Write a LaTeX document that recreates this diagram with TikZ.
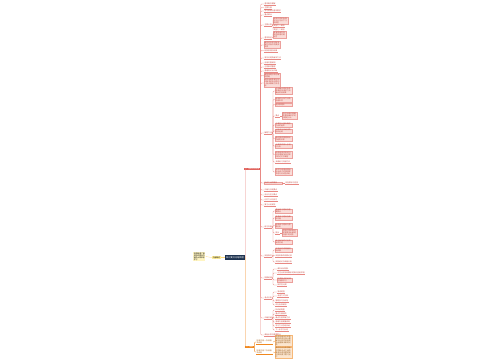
\documentclass[tikz,border=0pt]{standalone}
\usepackage{fontspec}
\newfontfamily\cjk{Noto Sans CJK SC}
\XeTeXlinebreaklocale "zh"
\XeTeXlinebreakskip=0pt plus 0.5pt
\usetikzlibrary{positioning}
\definecolor{mapred}{HTML}{E0605A}
\definecolor{mappink}{HTML}{FADCD8}
\definecolor{maptext}{HTML}{C0443C}
\definecolor{mapnavy}{HTML}{1E3350}
\definecolor{maporange}{HTML}{F0881E}
\definecolor{mappeach}{HTML}{FCE6CF}
\definecolor{mapyellow}{HTML}{FFEE99}
\newcommand{\mapfont}{\cjk\fontsize{1.8}{2.1}\selectfont}

\begin{document}
\begin{tikzpicture}[x=1pt, y=-1pt,
    every node/.style={font=\mapfont, inner sep=0.4pt, anchor=west},
    rlink/.style={draw=mapred!75, line width=0.3pt, rounded corners=0.8pt},
    olink/.style={draw=maporange, line width=0.3pt, rounded corners=0.8pt},
    ylink/.style={draw=mapyellow!80!orange, line width=0.3pt},
    txt/.style={text=maptext, append after command={(\tikzlastnode.south west) edge[rlink] (\tikzlastnode.south east)}},
    otxt/.style={text=maporange!70!black, append after command={(\tikzlastnode.south west) edge[olink] (\tikzlastnode.south east)}},
    pbox/.style={draw=mapred!60, line width=0.2pt, fill=mappink, text=maptext, text width=#1, align=left, inner sep=0.5pt},
    obox/.style={draw=maporange!60, line width=0.2pt, fill=mappeach, text=maporange!60!black, text width=#1, align=left, inner sep=0.5pt}]
    \useasboundingbox (0,0) rectangle (500,360);

    % centre and left note
    \node[fill=mapnavy, text=white, inner sep=1pt, font=\cjk\fontsize{2.2}{2.6}\selectfont] (root) at (225,257.5) {知识要点总结梳理};
    \node[fill=mapyellow, inner sep=0.6pt] (sum) at (212,257.5) {内容概述};
    \node[fill=mapyellow!60, text width=11pt, align=left, inner sep=0.6pt] (memo) at (193,256.5) {本图梳理了相关知识要点内容供大家参考学习};
    \draw[ylink] (sum.east) -- (root.west);
    \draw[ylink] (memo.east) -- (sum.west);

    % main branches
    \node[fill=mapred, text=white, inner sep=0.6pt] (r) at (244,169) {一、基础知识梳理};
    \node[fill=maporange, text=white, inner sep=0.6pt] (o) at (245,347) {二、拓展};
    \draw[rlink] (root.east) -- ++(0.8,0) |- (r.west);
    \draw[olink] (root.east) -- ++(0.8,0) |- (o.west);

    % red branch, level 2
    \node[txt] (a1) at (264,4) {基本概念理解};
    \node[txt] (a2) at (264,7.5) {主要内容};
    \node[txt] (a3) at (264,11) {学习目标与基本要求};
    \node[txt] (a4) at (264,15) {重点难点};
    \node[txt] (a5) at (264,25) {主要分类};
    \node[txt] (a6) at (264,38) {基本特征};
    \node[pbox=15pt] (a7) at (264,45) {概念的形成过程及其在实际中的具体表现};
    \node[txt] (a8) at (264,50.5) {相关原理与规律};
    \node[txt] (a9) at (264,58) {常见问题及解决方法};
    \node[txt] (a10) at (264,63) {应用范围说明};
    \node[txt] (a11) at (264,67) {注意事项整理};
    \node[txt] (a12) at (264,71) {易错知识点归纳};
    \node[pbox=15pt] (a13) at (264,75.5) {典型例题分析与解题思路};
    \node[pbox=15pt] (a14) at (264,83) {综合运用各部分知识解决实际问题的一般步骤和方法总结};
    \node[txt] (a15) at (264,133) {解题方法};
    \node[pbox=17pt] (a16) at (264,183) {知识之间的联系};
    \node[txt] (a17) at (264,190) {归纳与总结要点};
    \node[txt] (a18) at (264,195) {对比与区分要点};
    \node[txt] (a19) at (264,200) {记忆方法与技巧};
    \node[txt] (a20) at (264,205) {复习计划安排};
    \node[txt] (a21) at (264,227) {练习巩固};
    \node[txt] (a22) at (264,256) {实验探究};
    \node[txt] (a23) at (264,278) {拓展延伸};
    \node[txt] (a24) at (264,298) {考点分析};
    \node[txt] (a25) at (264,318) {归纳总结};
    \node[txt] (a26) at (264,335) {课后反思与整理要点};
    \foreach \n in {a1,a2,a3,a4,a5,a6,a7,a8,a9,a10,a11,a12,a13,a14,a15,a16,a17,a18,a19,a20,a21,a22,a23,a24,a25,a26}
        \draw[rlink] (r.east) -- ++(0.8,0) |- (\n.west);

    % level 3
    \node[pbox=14pt] (b1) at (273,21) {按照不同的标准可以分为以下几种类型};
    \node[txt] (b2) at (273,26) {类型之一说明};
    \node[txt] (b3) at (273,29.5) {类型之二说明};
    \foreach \n in {b1,b2,b3}
        \draw[rlink] (a5.east) -- ++(0.6,0) |- (\n.west);
    \node[pbox=12pt] (b4) at (273,34.5) {具有普遍性特殊性和相对稳定性};
    \draw[rlink] (a6.east) -- ++(0.6,0) |- (b4.west);

    \node[pbox=16pt] (c1) at (275,91) {先明确问题的条件再确定所用的方法最后检验结果};
    \node[pbox=16pt] (c2) at (275,99.5) {常用的分析方法及适用条件};
    \node[pbox=16pt] (c3) at (275,104.5) {逐步推理法};
    \node[txt] (c4) at (275,116) {要点};
    \node[pbox=16pt] (c5) at (275,125) {注意区分相似概念之间的差异};
    \node[pbox=16pt] (c6) at (275,131) {比较法与归纳法的结合运用};
    \node[pbox=16pt] (c7) at (275,138.5) {通过图表整理知识的结构关系};
    \node[pbox=16pt] (c8) at (275,146) {从具体实例入手进行分析};
    \node[pbox=16pt] (c9) at (275,154.5) {结合具体实例进行分析理解加深对知识的记忆与掌握};
    \node[txt] (c10) at (275,162) {多做练习巩固方法};
    \node[pbox=16pt] (c11) at (275,172) {及时总结错误原因找出自己的薄弱环节进行针对性训练};
    \foreach \n in {c1,c2,c3,c4,c5,c6,c7,c8,c9,c10,c11}
        \draw[rlink] (a15.east) -- ++(0.6,0) |- (\n.west);
    \node[pbox=14pt] (c4r) at (282,116) {抓住关键词理解题意明确所求的问题是什么};
    \draw[rlink] (c4.east) -- (c4r.west);
    \node[txt] (a16r) at (285,183) {相互联系与区别};
    \draw[rlink] (a16.east) -- (a16r.west);

    \node[pbox=16pt] (d1) at (275,211) {基础练习题目及答案要点};
    \node[pbox=16pt] (d2) at (275,218) {提高练习题目及解析过程};
    \node[pbox=16pt] (d3) at (275,225.5) {综合练习题目与思路分析};
    \node[txt] (d4) at (275,233) {提示};
    \node[pbox=16pt] (d5) at (275,242) {练习后及时订正并反思总结};
    \foreach \n in {d1,d2,d3,d4,d5}
        \draw[rlink] (a21.east) -- ++(0.6,0) |- (\n.west);
    \node[pbox=14pt] (d4r) at (282,233) {先独立思考再对照答案找出解题过程中的问题};
    \draw[rlink] (d4.east) -- (d4r.west);

    \node[pbox=16pt] (e1) at (275,250) {实验目的原理器材和步骤};
    \node[txt] (e2) at (275,255.5) {实验现象的观察记录};
    \node[txt] (e3) at (275,262) {实验结论与误差分析};
    \foreach \n in {e1,e2,e3}
        \draw[rlink] (a22.east) -- ++(0.6,0) |- (\n.west);

    \node[txt] (f1) at (277,269) {课外阅读材料};
    \node[txt] (f2) at (277,273) {与生活实际相联系的知识应用举例};
    \node[pbox=14pt] (f3) at (277,280) {相关知识的延伸与拓展学习};
    \node[txt] (f4) at (277,285) {探究性问题};
    \foreach \n in {f1,f2,f3,f4}
        \draw[rlink] (a23.east) -- ++(0.6,0) |- (\n.west);

    \node[txt] (g1) at (277,292) {常考题型};
    \node[txt] (g2) at (277,296) {考查方式分析};
    \node[txt] (g3) at (275,301) {答题技巧与规范};
    \node[txt] (g4) at (275,305) {评分标准说明};
    \foreach \n in {g1,g2,g3,g4}
        \draw[rlink] (a24.east) -- ++(0.6,0) |- (\n.west);

    \node[txt] (h1) at (275,310) {知识结构图};
    \node[txt] (h2) at (275,314) {重点内容回顾};
    \node[txt] (h3) at (275,318) {难点内容突破方法};
    \node[txt] (h4) at (275,322) {易错内容提醒说明};
    \node[txt] (h5) at (275,326) {学习方法总结归纳};
    \node[txt] (h6) at (275,330) {下一步学习计划};
    \foreach \n in {h1,h2,h3,h4,h5,h6}
        \draw[rlink] (a25.east) -- ++(0.6,0) |- (\n.west);

    % orange branch
    \node[otxt, text width=16pt, align=left] (o1) at (256,342) {拓展内容一及其相关说明};
    \node[otxt, text width=16pt, align=left] (o2) at (256,352) {拓展内容二及其相关说明};
    \foreach \n in {o1,o2}
        \draw[olink] (o.east) -- ++(0.8,0) |- (\n.west);
    \node[obox=16pt] (o1r) at (275,341) {结合前面所学的基础知识进行深入理解与分析并能够灵活运用解决新的问题};
    \node[obox=16pt] (o2r) at (275,352.5) {通过对比分析找出不同知识点之间的联系形成完整的知识体系便于复习记忆};
    \draw[olink] (o1.east) -- (o1r.west);
    \draw[olink] (o2.east) -- (o2r.west);
\end{tikzpicture}
\end{document}
